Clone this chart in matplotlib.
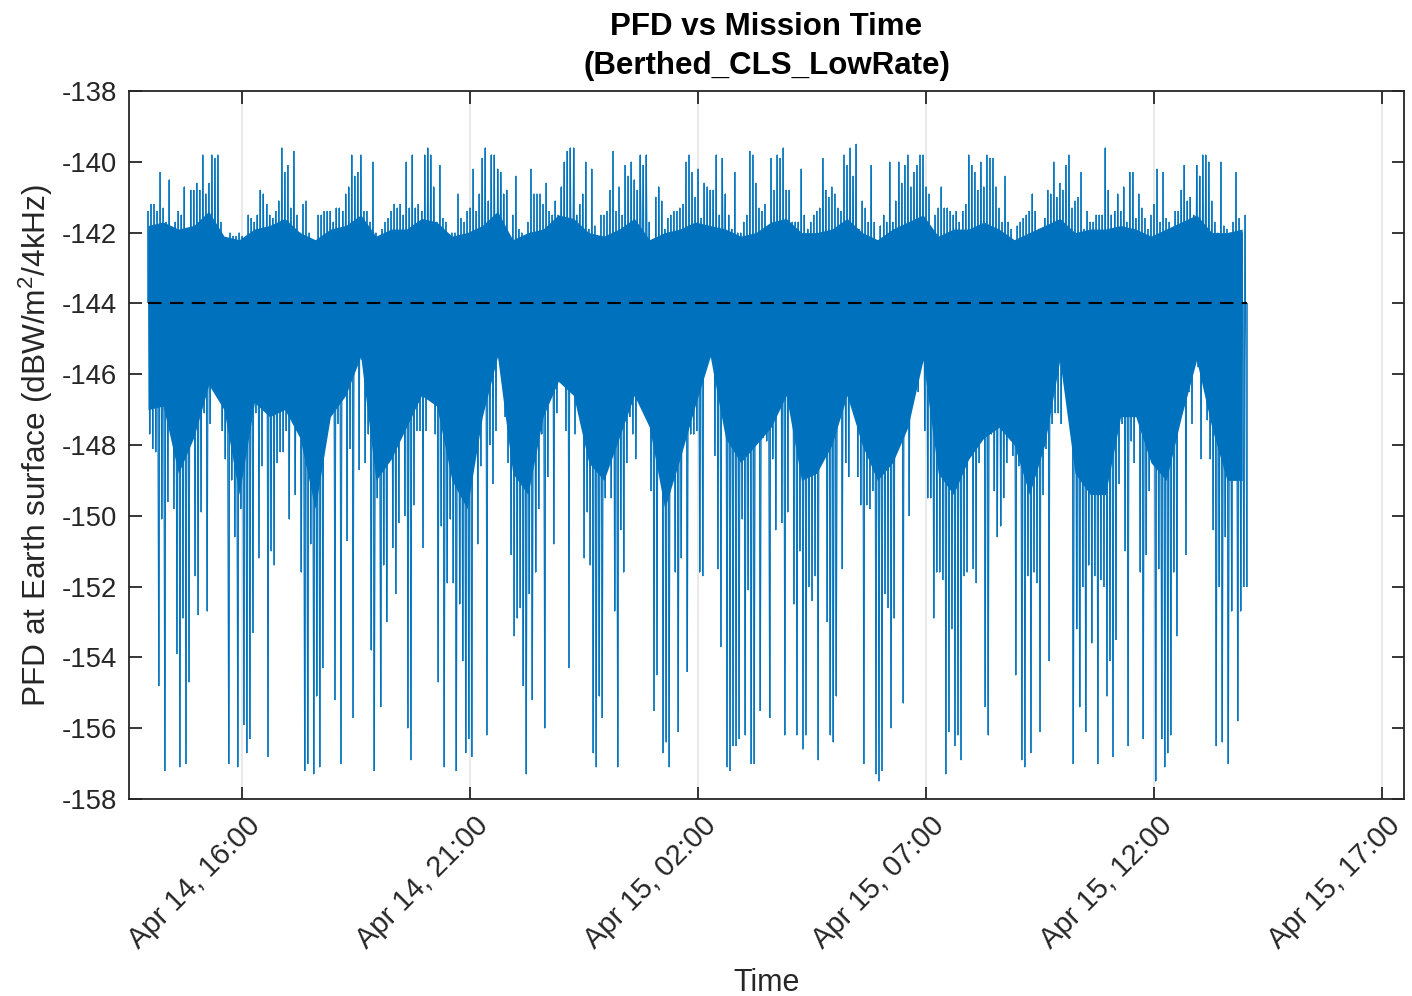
import numpy as np
import matplotlib
matplotlib.use("Agg")
import matplotlib.pyplot as plt
import matplotlib.dates as mdates
from matplotlib.transforms import ScaledTranslation

plt.rcParams['font.family'] = ['Liberation Sans', 'DejaVu Sans']
plt.rcParams['mathtext.fontset'] = 'custom'
plt.rcParams['mathtext.rm'] = 'Liberation Sans'
plt.rcParams['mathtext.it'] = 'Liberation Sans:italic'
plt.rcParams['mathtext.bf'] = 'Liberation Sans:bold'
plt.rcParams['axes.unicode_minus'] = False

# ---------------- data ----------------
start_time = np.datetime64('2024-04-14T13:56')
sample_step_min = 4          # one high / one low sample per 4-minute bin
core_step_min = 20           # resolution of the dense core band

# lowest PFD value in each 4-minute bin (dBW/m^2/4kHz)
pfd_lo = [
    -147.7, -148.1, -148.2, -154.8, -150.1, -157.2, -149.6, -146.2, -149.8, -153.9,
    -157.1, -152.9, -157.0, -154.7, -147.1, -151.7, -152.8, -149.9, -147.1, -152.7,
    -147.4, -146.2, -145.2, -145.7, -147.6, -148.4, -157.0, -149.0, -150.6, -157.1,
    -149.8, -155.9, -156.7, -156.3, -153.3, -147.1, -151.2, -148.6, -145.2, -156.8,
    -151.0, -151.4, -148.5, -148.2,
    -148.2, -147.6, -150.1, -145.7, -149.4, -146.9, -151.6, -157.2, -157.0, -150.8,
    -157.3, -155.1, -157.1, -154.3, -147.9, -147.2, -145.2, -155.2, -147.4, -157.0,
    -145.2, -150.7, -148.1, -155.7, -144.9, -148.7, -145.6, -148.5, -147.7, -153.8,
    -157.2, -149.5, -155.4, -151.4, -153.0, -148.1, -150.9, -152.2, -150.2, -146.0,
    -150.0, -156.0, -156.9, -149.7, -147.6, -147.6,
    -150.9, -147.6, -145.5, -145.2, -147.7, -154.7, -150.3, -157.1, -151.9, -150.1,
    -151.9, -157.2, -152.5, -154.1, -156.7, -156.3, -156.8, -147.4, -150.8, -148.6,
    -145.1, -156.2, -148.0, -149.1, -147.6, -145.1, -144.1, -147.2, -148.5, -151.1,
    -153.4, -152.9, -152.6, -154.8, -157.3, -152.2, -155.2, -151.6, -149.8, -147.7,
    -156.0, -148.9, -145.4, -150.8, -147.1, -146.0,
    -145.7, -147.6, -154.3, -145.9, -147.7, -144.7, -147.1, -151.2, -149.9, -151.4,
    -156.7, -157.1, -155.1, -155.7, -149.5, -146.9, -149.5, -152.7, -157.1, -150.4,
    -151.6, -148.5, -147.2, -147.7, -148.4, -145.5, -143.8, -146.7, -145.1, -149.3,
    -155.5, -154.5, -148.2, -156.7, -156.4, -157.1, -147.9, -151.6, -156.1, -151.2,
    -147.7, -154.4, -147.7, -147.7, -147.6, -151.6,
    -151.7, -145.5, -145.5, -144.6, -148.3, -151.5, -153.7, -145.0, -157.1, -157.2,
    -156.5, -156.5, -156.3, -150.1, -156.2, -152.1, -157.0, -157.0, -146.9, -155.5,
    -147.8, -147.9, -155.7, -148.4, -150.4, -145.9, -150.2, -156.2, -149.9, -146.0,
    -152.5, -156.2, -151.0, -156.6, -156.2, -152.0, -152.4, -151.7, -156.9, -147.2,
    -145.3, -153.0, -156.2, -156.4, -155.1, -145.8,
    -151.5, -148.5, -148.9, -145.5, -144.7, -148.9, -149.7, -157.0, -149.7, -149.8,
    -149.3, -157.3, -157.5, -157.2, -152.2, -152.6, -156.0, -152.9, -147.9, -147.7,
    -155.3, -147.1, -150.0, -146.5, -144.4, -146.5, -145.7, -147.6, -149.5, -149.5,
    -152.9, -151.6, -151.6, -151.8, -157.3, -156.1, -153.2, -156.5, -156.2, -156.9,
    -151.7, -151.6, -148.2, -151.5, -151.9, -148.5,
    -145.3, -155.4, -156.2, -147.7, -149.3, -150.6, -150.3, -149.5, -148.5, -146.3,
    -148.3, -154.5, -148.6, -156.9, -157.1, -151.7, -156.7, -151.6, -151.9, -156.1,
    -149.4, -148.1, -154.1, -147.4, -147.1, -147.1, -147.4, -144.7, -144.7, -145.1,
    -157.0, -153.2, -155.4, -152.0, -156.1, -151.4, -153.6, -151.7, -157.0, -151.8,
    -152.0, -155.1, -154.1, -156.8, -153.5, -149.1,
    -147.4, -151.0, -156.5, -147.9, -148.5, -146.2, -151.6, -156.3, -151.1, -149.3,
    -146.1, -157.5, -151.5, -156.3, -157.1, -156.7, -156.2, -151.6, -153.4, -147.3,
    -146.9, -151.1, -146.5, -147.4, -145.6, -145.8, -148.4, -145.2, -147.3, -148.4,
    -150.4, -156.5, -152.0, -156.4, -150.6, -157.0, -152.7, -147.7, -155.8, -152.7,
    -152.0, -152.0,
]

# highest PFD value in each 4-minute bin
pfd_hi = [
    -141.4, -141.2, -141.2, -141.4, -140.3, -141.3, -141.7, -140.5, -142.2, -141.7,
    -141.4, -141.5, -140.7, -141.9, -140.8, -140.8, -140.6, -140.8, -139.8, -140.9,
    -140.6, -139.8, -139.9, -139.8, -141.7, -142.2, -142.6, -142.0, -142.1, -142.1,
    -142.0, -142.1, -142.4, -141.5, -141.6, -141.7, -141.5, -140.8, -140.9, -141.2,
    -141.5, -141.6, -141.4, -141.1,
    -139.6, -140.3, -140.1, -141.3, -139.7, -141.5, -142.0, -141.2, -141.1, -142.0,
    -142.4, -142.5, -141.5, -141.5, -141.4, -141.4, -141.4, -141.7, -141.3, -141.3,
    -141.4, -140.9, -140.7, -139.8, -140.4, -140.3, -139.8, -141.4, -141.4, -141.7,
    -140.0, -142.0, -142.6, -141.9, -141.7, -141.6, -141.4, -141.2, -141.3, -141.2,
    -141.5, -140.0, -141.3, -139.8, -141.3, -141.2,
    -141.4, -139.8, -139.6, -139.8, -140.7, -141.7, -140.1, -141.6, -141.7, -142.1,
    -142.0, -142.0, -140.9, -141.6, -141.7, -141.4, -141.3, -140.2, -141.4, -140.9,
    -139.9, -139.6, -141.1, -139.8, -139.8, -140.2, -140.3, -140.9, -140.8, -142.2,
    -141.5, -140.4, -141.9, -142.0, -142.8, -141.7, -140.2, -140.9, -140.9, -140.9,
    -141.2, -140.6, -141.4, -141.5, -141.1, -141.5,
    -140.7, -140.0, -139.7, -139.6, -139.6, -141.5, -141.2, -140.9, -140.0, -141.9,
    -140.2, -141.8, -142.1, -141.5, -141.5, -141.4, -140.8, -139.7, -141.4, -140.7,
    -141.5, -140.1, -140.4, -140.0, -140.5, -140.8, -139.8, -140.1, -139.8, -141.7,
    -142.3, -141.0, -140.7, -141.1, -141.9, -141.6, -141.5, -141.4, -141.4, -141.3,
    -141.2, -140.0, -139.8, -140.3, -141.0, -140.2,
    -141.6, -140.6, -140.7, -140.8, -140.8, -139.8, -141.5, -139.9, -140.9, -141.5,
    -141.9, -140.3, -142.0, -142.0, -141.7, -141.5, -139.7, -139.8, -140.6, -141.3,
    -141.4, -141.2, -141.9, -139.9, -140.8, -139.8, -139.9, -139.6, -140.8, -140.8,
    -141.7, -141.7, -141.7, -140.2, -141.5, -141.9, -141.7, -141.5, -141.4, -141.3,
    -139.9, -140.8, -141.0, -140.7, -140.9, -141.3,
    -141.4, -139.8, -140.1, -139.6, -140.4, -139.5, -141.9, -141.1, -141.3, -141.7,
    -140.1, -141.7, -142.3, -141.8, -141.5, -141.7, -140.0, -141.7, -141.1, -140.0,
    -140.6, -140.1, -139.8, -140.7, -140.3, -140.1, -139.8, -139.8, -140.7, -140.9,
    -142.0, -141.5, -141.3, -140.7, -141.3, -141.3, -141.4, -141.5, -141.4, -141.7,
    -141.4, -141.2, -139.8, -140.1, -140.3, -140.8,
    -140.0, -140.7, -139.8, -139.9, -139.9, -140.7, -141.3, -141.7, -140.4, -141.7,
    -141.9, -142.3, -141.8, -141.7, -141.6, -141.5, -141.4, -140.9, -141.4, -141.9,
    -142.2, -141.6, -140.8, -140.9, -140.0, -141.0, -140.6, -140.8, -140.1, -139.8,
    -141.3, -141.1, -141.0, -140.3, -141.9, -141.4, -141.7, -141.7, -141.5, -141.5,
    -141.5, -139.6, -140.8, -141.5, -141.4, -140.9,
    -141.4, -140.7, -141.7, -140.3, -140.3, -141.6, -140.9, -141.3, -141.6, -141.9,
    -141.5, -141.2, -140.2, -141.7, -140.3, -141.6, -141.7, -141.9, -141.4, -141.4,
    -140.8, -140.1, -141.1, -141.0, -141.5, -140.1, -140.4, -139.8, -139.8, -140.0,
    -141.1, -141.7, -142.0, -140.0, -141.8, -141.9, -142.0, -141.7, -140.3, -141.6,
    -142.0, -141.5,
]

# lower / upper edge of the dense (solid) band, every 20 minutes
core_bot = [
    -147.0, -146.9, -148.8, -147.8, -146.3, -147.0, -149.4, -146.8, -147.2,
    -147.0, -147.8, -149.8, -147.2, -146.6, -145.5, -149.0, -148.4, -147.5,
    -146.6, -146.9, -149.0, -149.8, -147.2, -145.5, -148.8, -149.4, -147.2,
    -146.2, -146.6, -148.5, -149.0, -147.8, -146.6, -147.5, -149.8, -148.4, -146.9,
    -145.5, -147.8, -148.5, -148.0, -147.5, -146.6, -149.0, -148.8, -148.0,
    -146.6, -148.0, -149.0, -148.5, -147.5, -145.6, -148.8, -149.4, -148.4,
    -147.8, -147.5, -148.0, -149.4, -148.0, -145.6, -148.8, -149.4, -149.4,
    -147.2, -147.2, -148.5, -149.0, -147.2, -145.6, -147.5, -149.0, -149.0,
]
core_top = [
    -141.8, -141.7, -141.9, -141.8, -141.4, -142.1, -142.2, -141.9, -141.8,
    -141.6, -142.0, -142.2, -141.9, -141.8, -141.5, -142.1, -141.9, -141.9,
    -141.6, -141.7, -142.1, -142.0, -141.8, -141.4, -142.2, -142.0, -141.9,
    -141.5, -141.6, -142.0, -142.1, -141.9, -141.6, -142.2, -142.0, -141.9, -141.7,
    -141.8, -141.9, -142.1, -142.0, -141.7, -141.6, -142.0, -142.0, -141.9,
    -141.6, -142.0, -142.2, -141.9, -141.7, -141.5, -142.1, -141.9, -141.9,
    -141.7, -141.9, -142.2, -142.0, -141.8, -141.6, -142.0, -141.9, -141.9,
    -141.8, -141.9, -142.1, -141.9, -141.7, -141.5, -142.0, -142.0, -141.9,
]
pfd_limit = -144.0         # dashed reference level

x_tick_times = ['2024-04-14T16:00', '2024-04-14T21:00', '2024-04-15T02:00',
                '2024-04-15T07:00', '2024-04-15T12:00', '2024-04-15T17:00']
x_limits = ['2024-04-14T13:31', '2024-04-15T17:29']
y_ticks = list(range(-158, -137, 2))

title_text = 'PFD vs Mission Time\n(Berthed_CLS_LowRate)'
x_label = 'Time'
y_label = 'PFD at Earth surface (dBW/m$^{2}$/4kHz)'

# ---------------- build the series ----------------
n = len(pfd_lo)
t_hi = start_time + np.arange(n) * np.timedelta64(sample_step_min, 'm')
t_lo = t_hi + np.timedelta64(sample_step_min // 2, 'm')
t_series = np.empty(2 * n, dtype='datetime64[m]')
v_series = np.empty(2 * n)
t_series[0::2] = t_hi
t_series[1::2] = t_lo
v_series[0::2] = pfd_hi
v_series[1::2] = pfd_lo
x_series = mdates.date2num(t_series)
x_hi = mdates.date2num(t_hi)
x_lo = mdates.date2num(t_lo)

t_core = start_time + np.arange(len(core_bot)) * np.timedelta64(core_step_min, 'm')
x_core = mdates.date2num(t_core)

# ---------------- figure ----------------
W, H = 1412, 996
fig = plt.figure(figsize=(W / 100, H / 100), dpi=100)
ax_l, ax_r, ax_t, ax_b = 129, 1404, 91, 799
ax = fig.add_axes([ax_l / W, 1 - ax_b / H, (ax_r - ax_l) / W, (ax_b - ax_t) / H])

blue = '#0072BD'
dark = '#262626'

ax.fill_between(x_core, core_bot, core_top, color=blue, lw=0, zorder=2)
ax.plot(x_series, v_series, color=blue, lw=0.6, zorder=3)
ax.vlines(x_hi, pfd_limit, pfd_hi, color=blue, lw=1.1, zorder=3)
ax.vlines(x_lo, pfd_limit, pfd_lo, color=blue, lw=1.1, zorder=3)
ax.plot([x_series[0], x_series[-1]], [pfd_limit, pfd_limit], color='black',
        lw=1.5, dashes=(6.5, 4), zorder=4)

ax.set_xlim(mdates.date2num(np.array(x_limits, dtype='datetime64[m]')))
ax.set_ylim(-158, -138)
ax.set_yticks(y_ticks)
xt = mdates.date2num(np.array(x_tick_times, dtype='datetime64[m]'))
ax.set_xticks(xt)
ax.xaxis.set_major_formatter(mdates.DateFormatter('%b %d, %H:%M'))

ax.grid(axis='x', color='#e3e3e3', lw=1.1, zorder=0)
ax.set_axisbelow(True)

for s in ax.spines.values():
    s.set_color(dark)
    s.set_linewidth(1.3)

ax.tick_params(axis='both', which='major', direction='in', length=9, width=1.3,
               color=dark, labelcolor=dark, labelsize=19.8,
               top=True, right=True)
ax.tick_params(axis='y', pad=8.5)
ax.tick_params(axis='x', pad=16, labelsize=20.8)

for lab in ax.get_xticklabels():
    lab.set_rotation(45)
    lab.set_ha('right')
    lab.set_va('center')
    lab.set_rotation_mode('anchor')
    lab.set_transform(lab.get_transform() + ScaledTranslation(14 / 100, 0, fig.dpi_scale_trans))

ax.set_title(title_text, fontsize=22.5, fontweight='bold', color='black',
             x=0.5, y=1.0, pad=12, linespacing=1.42)
ax.set_xlabel(x_label, fontsize=22, color=dark)
ax.xaxis.set_label_coords(0.5, -0.238)
ax.set_ylabel(y_label, fontsize=22.8, color=dark)
ax.yaxis.set_label_coords(-0.058, 0.5)

fig.savefig('out.png', dpi=100, facecolor='white')
